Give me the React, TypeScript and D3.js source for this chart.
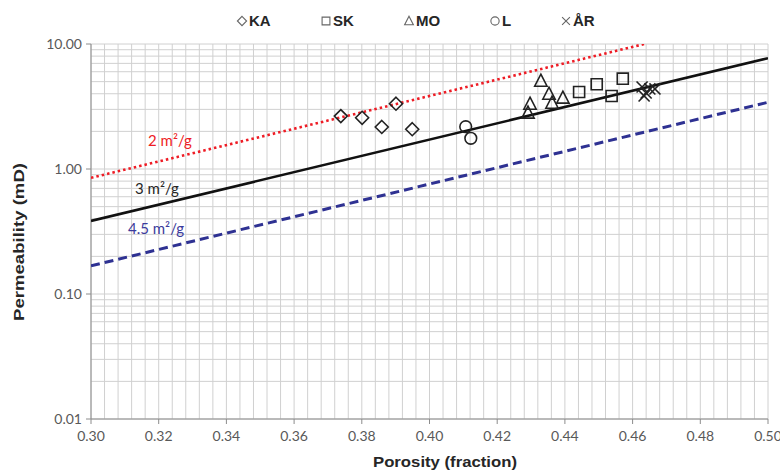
import React from "react";
import * as d3 from "d3";

// Sample groups: porosity (fraction) and permeability (mD)
const kaPorosity = [0.3738, 0.3801, 0.3859, 0.3901, 0.3949];
const kaPerm = [2.65, 2.57, 2.17, 3.33, 2.08];

const skPorosity = [0.4442, 0.4494, 0.4538, 0.4571];
const skPerm = [4.13, 4.76, 3.84, 5.28];

const moPorosity = [0.4329, 0.4353, 0.4362, 0.4394, 0.4297, 0.4291];
const moPerm = [5.06, 3.98, 3.37, 3.7, 3.31, 2.81];

const lPorosity = [0.4107, 0.4122];
const lPerm = [2.18, 1.76];

const arPorosity = [0.4628, 0.464, 0.4651, 0.4634, 0.4666];
const arPerm = [4.53, 4.06, 4.37, 3.84, 4.37];

// Specific-surface reference lines (porosity, permeability end points)
const line2Porosity = [0.3, 0.4635];
const line2Perm = [0.85, 10];
const line3Porosity = [0.3, 0.5];
const line3Perm = [0.384, 7.7];
const line45Porosity = [0.3, 0.5];
const line45Perm = [0.168, 3.42];

const xTicks = [0.3, 0.32, 0.34, 0.36, 0.38, 0.4, 0.42, 0.44, 0.46, 0.48, 0.5];
const yTicks = [0.01, 0.1, 1, 10];
const legendNames = ["KA", "SK", "MO", "L", "ÅR"];

const W = 780;
const H = 474;
const left = 91;
const right = 768;
const top = 44;
const bottom = 419;

type Kind = "diamond" | "square" | "triangle" | "circle" | "x";

function markerPath(kind: Kind, s: number): string {
  const p = d3.path();
  if (kind === "diamond") {
    p.moveTo(0, -s);
    p.lineTo(s, 0);
    p.lineTo(0, s);
    p.lineTo(-s, 0);
    p.closePath();
  } else if (kind === "square") {
    const h = s * 0.85;
    p.rect(-h, -h, 2 * h, 2 * h);
  } else if (kind === "triangle") {
    p.moveTo(0, -s * 1.05);
    p.lineTo(s * 0.95, s * 0.8);
    p.lineTo(-s * 0.95, s * 0.8);
    p.closePath();
  } else if (kind === "circle") {
    p.arc(0, 0, s * 0.9, 0, Math.PI * 2);
  } else {
    const h = s * 0.85;
    p.moveTo(-h, -h);
    p.lineTo(h, h);
    p.moveTo(h, -h);
    p.lineTo(-h, h);
  }
  return p.toString();
}

export default function App() {
  const x = d3.scaleLinear().domain([0.3, 0.5]).range([left, right]);
  const y = d3.scaleLog().domain([0.01, 10]).range([bottom, top]);

  const vGrid = d3.range(0, 51).map((i) => 0.3 + i * 0.004);
  const hGrid: number[] = [];
  [0.01, 0.1, 1].forEach((d) => {
    for (let m = 1; m <= 9; m++) hGrid.push(d * m);
  });
  hGrid.push(10);

  const lineGen = d3
    .line<[number, number]>()
    .x((d) => x(d[0]))
    .y((d) => y(d[1]));

  const zip = (a: number[], b: number[]) =>
    a.map((v, i) => [v, b[i]] as [number, number]);

  const groups: { kind: Kind; px: number[]; py: number[] }[] = [
    { kind: "diamond", px: kaPorosity, py: kaPerm },
    { kind: "square", px: skPorosity, py: skPerm },
    { kind: "triangle", px: moPorosity, py: moPerm },
    { kind: "circle", px: lPorosity, py: lPerm },
    { kind: "x", px: arPorosity, py: arPerm },
  ];

  const legendX = [237, 321, 404, 490, 561];
  const legendKinds: Kind[] = ["diamond", "square", "triangle", "circle", "x"];

  const tickFont = "Lato, 'Open Sans', sans-serif";
  const boldFont = "'Liberation Sans', Arial, sans-serif";

  return (
    <div style={{ position: "absolute", left: 0, top: 0 }}>
      <svg width={W} height={H} style={{ display: "block", background: "#fff" }}>
        <defs>
          <clipPath id="plotClip">
            <rect x={left} y={top} width={right - left} height={bottom - top} />
          </clipPath>
        </defs>

        {/* grid */}
        <g stroke="#d0d0d0" strokeWidth={1}>
          {vGrid.map((v, i) => (
            <line key={"v" + i} x1={x(v)} x2={x(v)} y1={top} y2={bottom} />
          ))}
          {hGrid.map((v, i) => (
            <line key={"h" + i} x1={left} x2={right} y1={y(v)} y2={y(v)} />
          ))}
        </g>

        {/* axes */}
        <g stroke="#8c8c8c" strokeWidth={1}>
          <line x1={left} x2={left} y1={top} y2={bottom} />
          <line x1={left} x2={right} y1={bottom} y2={bottom} />
          {yTicks.map((t) => (
            <line key={"yt" + t} x1={left - 5} x2={left} y1={y(t)} y2={y(t)} />
          ))}
          {xTicks.map((t) => (
            <line key={"xt" + t} x1={x(t)} x2={x(t)} y1={bottom} y2={bottom + 5} />
          ))}
        </g>

        {/* tick labels */}
        <g fontFamily={tickFont} fontSize={14} fill="#595959">
          {yTicks.map((t) => (
            <text key={"yl" + t} x={left - 9} y={y(t)} dy="0.35em" textAnchor="end">
              {d3.format(".2f")(t)}
            </text>
          ))}
          {xTicks.map((t) => (
            <text key={"xl" + t} x={x(t)} y={bottom + 22} textAnchor="middle">
              {d3.format(".2f")(t)}
            </text>
          ))}
        </g>

        {/* axis titles */}
        <text
          x={445}
          y={467}
          textAnchor="middle"
          fontFamily={boldFont}
          fontWeight="bold"
          fontSize={15}
          fill="#262626"
          textLength={144}
          lengthAdjust="spacingAndGlyphs"
        >
          Porosity (fraction)
        </text>
        <text
          transform={`translate(24,242) rotate(-90)`}
          textAnchor="middle"
          fontFamily={boldFont}
          fontWeight="bold"
          fontSize={15}
          fill="#262626"
          textLength={158}
          lengthAdjust="spacingAndGlyphs"
        >
          Permeability (mD)
        </text>

        {/* reference lines */}
        <g clipPath="url(#plotClip)" fill="none">
          <path
            d={lineGen(zip(line2Porosity, line2Perm)) || ""}
            stroke="#ee1c25"
            strokeWidth={2.6}
            strokeDasharray="2.5 3"
          />
          <path
            d={lineGen(zip(line3Porosity, line3Perm)) || ""}
            stroke="#111"
            strokeWidth={2.6}
          />
          <path
            d={lineGen(zip(line45Porosity, line45Perm)) || ""}
            stroke="#2e3192"
            strokeWidth={3}
            strokeDasharray="9 5"
          />
        </g>

        {/* line labels */}
        <g fontFamily={tickFont} fontSize={15}>
          <text x={148} y={146} fill="#ee1c25">
            2 m²/g
          </text>
          <text x={135} y={194} fill="#262626">
            3 m²/g
          </text>
          <text x={128} y={234} fill="#3b3b9c">
            4.5 m²/g
          </text>
        </g>

        {/* sample markers */}
        <g fill="none" stroke="#222" strokeWidth={1.6}>
          {groups.map((g, gi) =>
            g.px.map((v, i) => (
              <path
                key={gi + "-" + i}
                transform={`translate(${x(v)},${y(g.py[i])})`}
                d={markerPath(g.kind, 6.5)}
              />
            ))
          )}
        </g>

        {/* legend */}
        <g>
          {legendNames.map((name, i) => (
            <g key={name} transform={`translate(${legendX[i]},21)`}>
              <path
                d={markerPath(legendKinds[i], 4.6)}
                transform="translate(5,0)"
                fill="none"
                stroke="#666"
                strokeWidth={1.1}
              />
              <text
                x={12}
                dy="0.36em"
                fontFamily={boldFont}
                fontWeight="bold"
                fontSize={15}
                fill="#262626"
              >
                {name}
              </text>
            </g>
          ))}
        </g>
      </svg>
    </div>
  );
}
